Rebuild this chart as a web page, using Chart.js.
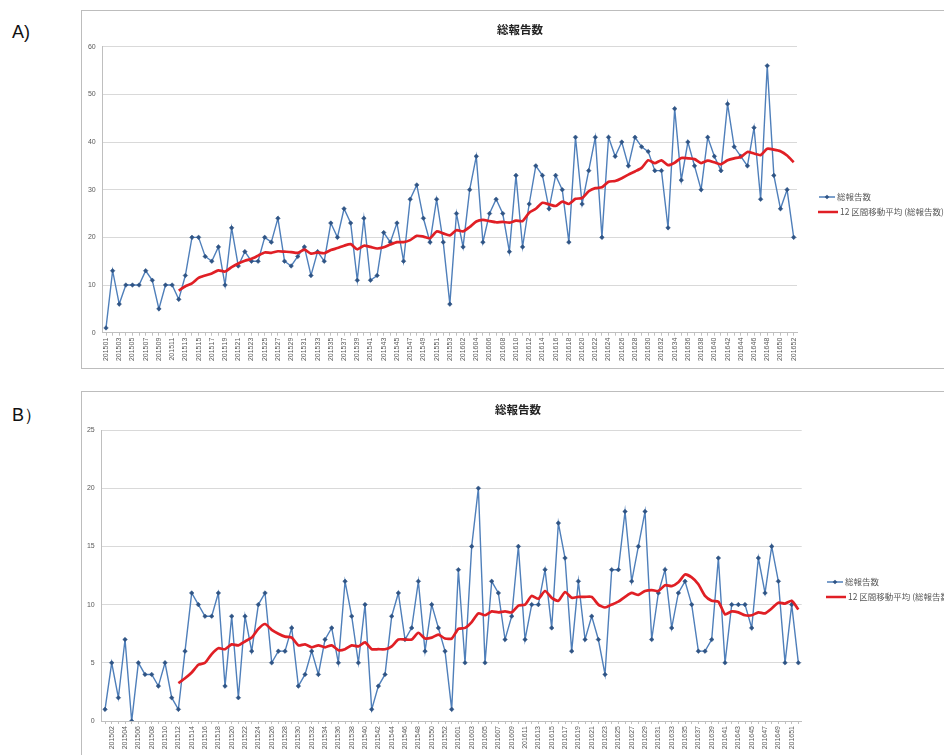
<!DOCTYPE html>
<html>
<head>
<meta charset="utf-8">
<script src="https://cdn.jsdelivr.net/npm/chart.js@4.4.1/dist/chart.umd.min.js"></script>
<style>
  html, body { margin: 0; padding: 0; background: #fff; overflow: hidden; }
  body { width: 944px; height: 755px; position: relative; font-family: "Liberation Sans", Arial, sans-serif; }
  .tag { position: absolute; font-size: 18px; color: #111; line-height: 1; }
  .box { position: absolute; border: 1px solid #bdbdbd; background: #fff; }
  canvas { display: block; }
</style>
</head>
<body>
<div class="tag" style="left:12px;top:23px">A)</div>
<div class="tag" style="left:12px;top:406px">B）</div>
<div class="box" style="left:81px;top:10px;width:880px;height:357px"><canvas id="chartA" width="880" height="357"></canvas></div>
<div class="box" style="left:81px;top:391px;width:880px;height:366px"><canvas id="chartB" width="880" height="366"></canvas></div>

<script>
// Weekly report counts, ISO weeks 2015-01 .. 2016-52 (2015 has 53 weeks)
const weeks2015 = 53;
const weeks2016 = 52;
const weekLabels = [];
for (let w = 1; w <= weeks2015; w++) weekLabels.push('2015' + String(w).padStart(2, '0'));
for (let w = 1; w <= weeks2016; w++) weekLabels.push('2016' + String(w).padStart(2, '0'));

const reportsA = [
  1, 13, 6, 10, 10, 10, 13, 11, 5, 10, 10, 7, 12, 20, 20, 16, 15, 18, 10, 22,
  14, 17, 15, 15, 20, 19, 24, 15, 14, 16, 18, 12, 17, 15, 23, 20, 26, 23, 11, 24,
  11, 12, 21, 19, 23, 15, 28, 31, 24, 19, 28, 19, 6, 25, 18, 30, 37, 19, 25, 28,
  25, 17, 33, 18, 27, 35, 33, 26, 33, 30, 19, 41, 27, 34, 41, 20, 41, 37, 40, 35,
  41, 39, 38, 34, 34, 22, 47, 32, 40, 35, 30, 41, 37, 34, 48, 39, 37, 35, 43, 28,
  56, 33, 26, 30, 20
];

const reportsB = [
  1, 5, 2, 7, 0, 5, 4, 4, 3, 5, 2, 1, 6, 11, 10, 9, 9, 11, 3, 9,
  2, 9, 6, 10, 11, 5, 6, 6, 8, 3, 4, 6, 4, 7, 8, 5, 12, 9, 5, 10,
  1, 3, 4, 9, 11, 7, 8, 12, 6, 10, 8, 6, 1, 13, 5, 15, 20, 5, 12, 11,
  7, 9, 15, 7, 10, 10, 13, 8, 17, 14, 6, 12, 7, 9, 7, 4, 13, 13, 18, 12,
  15, 18, 7, 11, 13, 8, 11, 12, 10, 6, 6, 7, 14, 5, 10, 10, 10, 8, 14, 11,
  15, 12, 5, 10, 5
];

const yTicksA = [0, 10, 20, 30, 40, 50, 60];
const yTicksB = [0, 5, 10, 15, 20, 25];

const chartTitle = '総報告数';
const seriesName = '総報告数';
const trendName = '12 区間移動平均 (総報告数)';
const trendPeriod = 12;

// trailing moving average, as a spreadsheet trendline computes it
function movingAverage(values, n) {
  return values.map((v, i) => {
    if (i < n - 1) return null;
    let s = 0;
    for (let k = i - n + 1; k <= i; k++) s += values[k];
    return s / n;
  });
}

const BLUE = '#4f7fba';
const MARKER = '#2f5485';
const RED = '#e01f25';
const GRID = '#d9d9d9';
const TEXT = '#595959';
const CJK = '"Noto Sans CJK JP", "Noto Sans", sans-serif';

// chart title centred on the whole frame, legend to the right of the plot
const frameDecor = {
  id: 'frameDecor',
  afterDraw(chart, args, opts) {
    const ctx = chart.ctx;
    ctx.save();
    ctx.fillStyle = '#222';
    ctx.font = 'bold 11.5px ' + CJK;
    ctx.textAlign = 'center';
    ctx.textBaseline = 'middle';
    ctx.fillText(chartTitle, opts.titleX, opts.titleY);

    ctx.textAlign = 'left';
    ctx.font = '8.5px ' + CJK;
    // item 1: line with marker
    ctx.strokeStyle = BLUE;
    ctx.lineWidth = 1.5;
    ctx.beginPath();
    ctx.moveTo(opts.x, opts.y1);
    ctx.lineTo(opts.x + 16, opts.y1);
    ctx.stroke();
    ctx.fillStyle = MARKER;
    ctx.beginPath();
    const mx = opts.x + 8, my = opts.y1, r = 2.3;
    ctx.moveTo(mx, my - r); ctx.lineTo(mx + r, my); ctx.lineTo(mx, my + r); ctx.lineTo(mx - r, my);
    ctx.closePath();
    ctx.fill();
    ctx.fillStyle = TEXT;
    ctx.fillText(seriesName, opts.x + 18, opts.y1);
    // item 2: moving average line
    ctx.strokeStyle = RED;
    ctx.lineWidth = 2.5;
    ctx.beginPath();
    ctx.moveTo(opts.x - 1, opts.y2);
    ctx.lineTo(opts.x + 19, opts.y2);
    ctx.stroke();
    ctx.fillText(trendName, opts.x + 21, opts.y2);
    ctx.restore();
  }
};

function buildChart(id, values, yTicks, every, layout) {
  const ma = movingAverage(values, trendPeriod);
  return new Chart(document.getElementById(id), {
    type: 'line',
    data: {
      labels: weekLabels,
      datasets: [
        {
          label: trendName,
          data: ma,
          borderColor: RED,
          borderWidth: 2.7,
          pointRadius: 0,
          tension: 0.2,
          order: 0
        },
        {
          label: seriesName,
          data: values,
          borderColor: BLUE,
          borderWidth: 1.4,
          pointStyle: 'rectRot',
          pointRadius: 2.3,
          pointBackgroundColor: MARKER,
          pointBorderColor: MARKER,
          pointBorderWidth: 0.5,
          tension: 0,
          order: 1
        }
      ]
    },
    options: {
      responsive: false,
      animation: false,
      devicePixelRatio: 1,
      layout: { padding: { left: 0, right: layout.right, top: layout.top, bottom: 0 } },
      plugins: {
        legend: { display: false },
        tooltip: { enabled: false },
        title: { display: false },
        frameDecor: layout.decor
      },
      scales: {
        x: {
          offset: true,
          grid: { display: true, drawOnChartArea: false, drawTicks: true, tickLength: 3, color: '#bfbfbf' },
          border: { display: true, color: '#bfbfbf' },
          ticks: {
            autoSkip: false,
            minRotation: 90,
            maxRotation: 90,
            padding: 2,
            color: TEXT,
            font: { family: '"Liberation Sans", Arial, sans-serif', size: 7 },
            callback: (v, i) => (i % 2 === every ? weekLabels[i] : '')
          },
          afterFit: s => { s.height = layout.xHeight; }
        },
        y: {
          min: yTicks[0],
          max: yTicks[yTicks.length - 1],
          grid: { color: GRID, drawTicks: false, lineWidth: 1 },
          border: { display: true, color: '#bfbfbf' },
          ticks: {
            stepSize: yTicks[1] - yTicks[0],
            padding: 7,
            color: TEXT,
            font: { family: '"Liberation Sans", Arial, sans-serif', size: 7 }
          },
          afterFit: s => { s.width = layout.yWidth; }
        }
      }
    },
    plugins: [frameDecor]
  });
}

buildChart('chartA', reportsA, yTicksA, 0, {
  right: 165, top: 35.7, xHeight: 35.3, yWidth: 20.7,
  decor: { titleX: 438, titleY: 19, x: 737, y1: 186, y2: 201 }
});

buildChart('chartB', reportsB, yTicksB, 1, {
  right: 160.3, top: 38, xHeight: 37, yWidth: 19.7,
  decor: { titleX: 436, titleY: 18, x: 745, y1: 190, y2: 205 }
});
</script>
</body>
</html>
